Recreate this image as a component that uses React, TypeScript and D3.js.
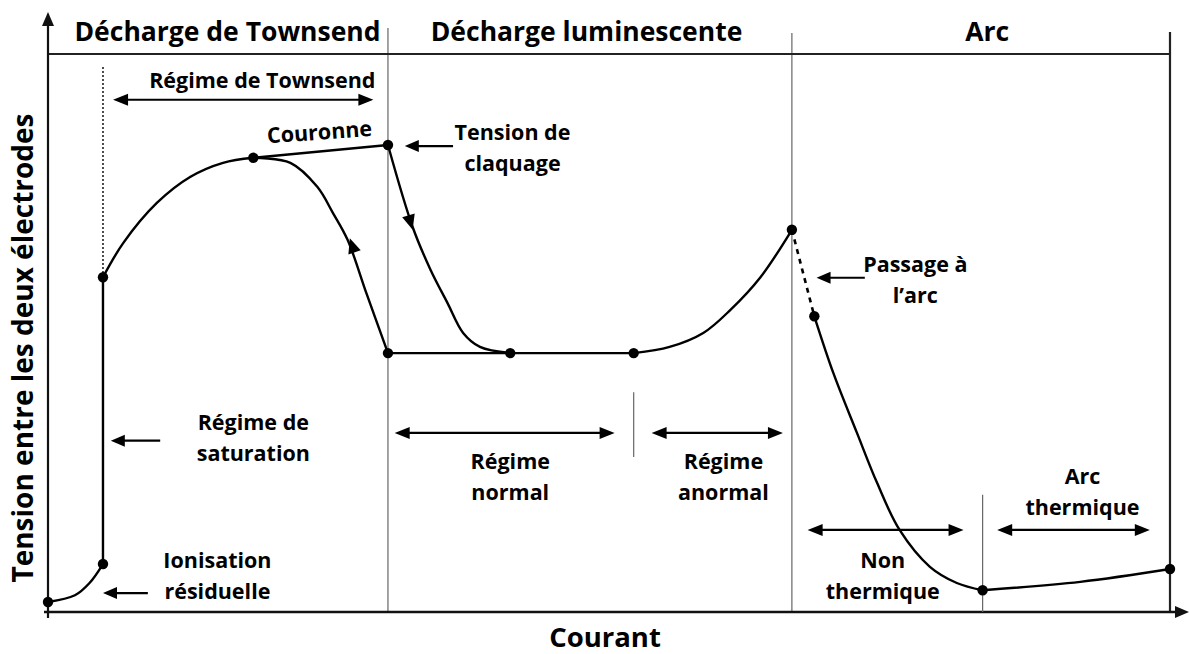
import React, { useRef, useEffect } from 'react';
import * as d3 from 'd3';

// courant (x) and tension (y) in arbitrary units, 0..100
const regionBounds = [0, 30.3, 66.3, 100];
const regionTitles = ['Décharge de Townsend', 'Décharge luminescente', 'Arc'];
const regionTitleX = [16.0, 48.0, 83.7];

const ionisationCurve = [[0, 1.8], [2.4, 3.0], [3.7, 5.2], [4.9, 8.6]];
const saturationLine = [[4.9, 8.6], [4.9, 60.0]];
const townsendCurve = [[4.9, 60.0], [6.7, 66.1], [9.7, 73.3], [12.7, 78.0], [15.6, 80.5], [18.3, 81.4]];
const couronneLine = [[18.3, 81.4], [30.3, 83.7]];
const returnCurve = [[18.3, 81.4], [21.6, 80.5], [24.0, 76.2], [25.4, 71.5], [26.7, 66.7], [28.4, 57.0], [30.3, 46.4]];
const claquageCurve = [[30.3, 83.7], [32.5, 69.0], [34.1, 61.3], [35.6, 55.4], [37.0, 50.0], [38.5, 47.5], [41.2, 46.4]];
const normalLine = [[30.3, 46.4], [52.2, 46.4]];
const anormalCurve = [[52.2, 46.4], [55.4, 47.5], [58.4, 50.0], [60.8, 54.1], [63.5, 60.0], [66.3, 68.5]];
const passageLine = [[66.3, 68.5], [68.3, 53.0]];
const arcCurve = [[68.3, 53.0], [70.0, 42.8], [72.1, 32.1], [73.9, 23.1], [75.9, 14.7], [78.6, 8.1], [81.0, 5.2], [83.3, 3.9]];
const thermiqueCurve = [[83.3, 3.9], [92.0, 5.4], [100, 7.7]];

const keyPoints = [[0, 1.8], [4.9, 8.6], [4.9, 60.0], [18.3, 81.4], [30.3, 83.7], [30.3, 46.4],
  [41.2, 46.4], [52.2, 46.4], [66.3, 68.5], [68.3, 53.0], [83.3, 3.9], [100, 7.7]];

// arrows drawn along the curve: [tip, a point behind it]
const flowArrows = [
  [[26.9, 67.0], [30.3, 46.4]],
  [[32.5, 68.5], [30.3, 83.7]],
];

const labelTexts = [['Régime de Townsend'], ['Couronne'], ['Tension de', 'claquage'], ['Passage  à', 'l’arc'],
  ['Régime de', 'saturation'], ['Ionisation', 'résiduelle'], ['Régime', 'normal'], ['Régime', 'anormal'],
  ['Non', 'thermique'], ['Arc', 'thermique']];
const labelX = [19.1, 24.2, 41.4, 77.3, 18.3, 15.1, 41.2, 60.2, 74.4, 92.2];
const labelY = [95.3, 86.0, 86.0, 62.2, 33.9, 9.3, 26.9, 26.9, 9.3, 24.2];

const spanFrom = [5.8, 30.9, 53.8, 67.7, 84.6];
const spanTo = [29.0, 50.5, 65.5, 81.6, 98.2];
const spanY = [91.8, 32.1, 32.1, 14.7, 14.7];

const pointerTail = [10.0, 8.9, 36.1, 72.8];
const pointerTip = [5.6, 4.9, 31.8, 68.5];
const pointerY = [30.7, 3.4, 83.5, 59.9];

const dividerX = [52.2, 83.3];
const dividerTop = [39.4, 21.0];
const dividerBottom = [27.8, 0];

const FONT = '"Open Sans", Lato, sans-serif';

function DischargeChart() {
  const svgRef = useRef(null);

  useEffect(() => {
    const svg = d3.select(svgRef.current);
    svg.selectAll('*').remove();

    const x = d3.scaleLinear().domain([0, 100]).range([48, 1170]);
    const y = d3.scaleLinear().domain([0, 100]).range([612, 54]);

    const head = (tx, ty, fx, fy, len = 14, half = 6) => {
      const a = Math.atan2(ty - fy, tx - fx);
      const bx = tx - len * Math.cos(a), by = ty - len * Math.sin(a);
      const px = -Math.sin(a) * half, py = Math.cos(a) * half;
      return `M${tx},${ty}L${bx + px},${by + py}L${bx - px},${by - py}Z`;
    };

    // region separators
    const sepTop = [28, 28, 33, 32];
    regionBounds.slice(1).forEach((b, i) => {
      svg.append('line')
        .attr('x1', x(b)).attr('x2', x(b))
        .attr('y1', sepTop[i + 1]).attr('y2', y(0))
        .attr('stroke', i === 2 ? '#222' : '#666')
        .attr('stroke-width', i === 2 ? 2.2 : 1.2);
    });
    svg.append('line')
      .attr('x1', x(0)).attr('x2', x(100))
      .attr('y1', y(100)).attr('y2', y(100))
      .attr('stroke', '#222').attr('stroke-width', 2.2);

    regionTitles.forEach((t, i) => {
      svg.append('text')
        .attr('x', x(regionTitleX[i])).attr('y', 41)
        .attr('text-anchor', 'middle')
        .attr('font-family', FONT).attr('font-weight', 700).attr('font-size', 26.5)
        .text(t);
    });

    // axes
    svg.append('line').attr('x1', x(0)).attr('x2', x(0)).attr('y1', 618).attr('y2', 24)
      .attr('stroke', '#111').attr('stroke-width', 2.2);
    svg.append('path').attr('d', head(x(0), 12, x(0), 40, 14, 6)).attr('fill', '#111');
    svg.append('line').attr('x1', 44).attr('x2', 1178).attr('y1', y(0)).attr('y2', y(0))
      .attr('stroke', '#111').attr('stroke-width', 2.4);
    svg.append('path').attr('d', head(1189, y(0), 1160, y(0), 14, 6)).attr('fill', '#111');

    svg.append('text')
      .attr('transform', `translate(33,348) rotate(-90)`)
      .attr('text-anchor', 'middle')
      .attr('font-family', FONT).attr('font-weight', 700).attr('font-size', 28)
      .text('Tension entre les deux électrodes');
    svg.append('text')
      .attr('x', 605).attr('y', 647)
      .attr('text-anchor', 'middle')
      .attr('font-family', FONT).attr('font-weight', 700).attr('font-size', 27.5)
      .text('Courant');

    // dotted guide at saturation
    svg.append('line')
      .attr('x1', x(4.9)).attr('x2', x(4.9)).attr('y1', 67).attr('y2', y(60))
      .attr('stroke', '#222').attr('stroke-width', 1.6).attr('stroke-dasharray', '2,2');

    // small dividers
    dividerX.forEach((d, i) => {
      svg.append('line')
        .attr('x1', x(d)).attr('x2', x(d))
        .attr('y1', y(dividerTop[i])).attr('y2', y(dividerBottom[i]))
        .attr('stroke', '#666').attr('stroke-width', 1.2);
    });

    // curve
    const smooth = d3.line().x(d => x(d[0])).y(d => y(d[1])).curve(d3.curveCatmullRom.alpha(0.5));
    const straight = d3.line().x(d => x(d[0])).y(d => y(d[1]));
    [ionisationCurve, townsendCurve, returnCurve, claquageCurve, anormalCurve, arcCurve, thermiqueCurve]
      .forEach(c => {
        svg.append('path').attr('d', smooth(c)).attr('fill', 'none')
          .attr('stroke', '#000').attr('stroke-width', 2.4);
      });
    [saturationLine, couronneLine, normalLine].forEach(c => {
      svg.append('path').attr('d', straight(c)).attr('fill', 'none')
        .attr('stroke', '#000').attr('stroke-width', 2.4);
    });
    svg.append('path').attr('d', straight(passageLine)).attr('fill', 'none')
      .attr('stroke', '#000').attr('stroke-width', 2.6).attr('stroke-dasharray', '5,5');

    flowArrows.forEach(([tip, from]) => {
      svg.append('path')
        .attr('d', head(x(tip[0]), y(tip[1]), x(from[0]), y(from[1]), 15, 6.5))
        .attr('fill', '#000');
    });

    svg.selectAll('.pt').data(keyPoints).enter().append('circle')
      .attr('class', 'pt')
      .attr('cx', d => x(d[0])).attr('cy', d => y(d[1]))
      .attr('r', 5.2).attr('fill', '#000');

    // double arrows for regimes
    spanFrom.forEach((f, i) => {
      const x1 = x(f), x2 = x(spanTo[i]), yy = y(spanY[i]);
      svg.append('line').attr('x1', x1 + 8).attr('x2', x2 - 8).attr('y1', yy).attr('y2', yy)
        .attr('stroke', '#000').attr('stroke-width', 2.2);
      svg.append('path').attr('d', head(x1, yy, x2, yy, 15, 6)).attr('fill', '#000');
      svg.append('path').attr('d', head(x2, yy, x1, yy, 15, 6)).attr('fill', '#000');
    });

    // pointer arrows
    pointerTail.forEach((t, i) => {
      const x1 = x(t), x2 = x(pointerTip[i]), yy = y(pointerY[i]);
      svg.append('line').attr('x1', x1).attr('x2', x2 + 8).attr('y1', yy).attr('y2', yy)
        .attr('stroke', '#000').attr('stroke-width', 2.2);
      svg.append('path').attr('d', head(x2, yy, x1, yy, 14, 6)).attr('fill', '#000');
    });

    // labels
    labelTexts.forEach((lines, i) => {
      const g = svg.append('text')
        .attr('font-family', FONT).attr('font-weight', 700).attr('font-size', 21.5)
        .attr('text-anchor', 'middle');
      if (i === 1) g.attr('transform', `rotate(-4 ${x(labelX[i])} ${y(labelY[i])})`);
      lines.forEach((l, j) => {
        g.append('tspan')
          .attr('x', x(labelX[i]))
          .attr('y', y(labelY[i]) + 7.5 + j * 31)
          .text(l);
      });
    });
  }, []);

  return (
    <svg ref={svgRef} width={1190} height={654}
      style={{ position: 'absolute', left: 0, top: 0, background: '#fff' }} />
  );
}

export default function App() {
  return <DischargeChart />;
}
